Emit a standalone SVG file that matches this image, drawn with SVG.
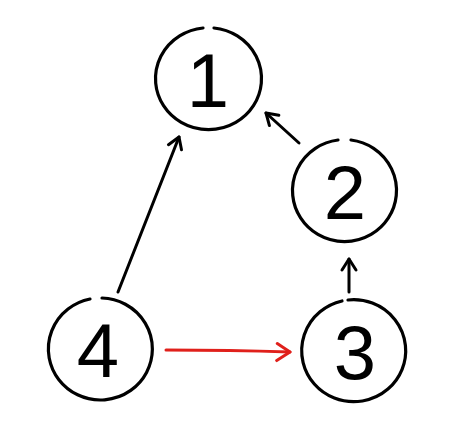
<svg xmlns="http://www.w3.org/2000/svg" width="450" height="448" viewBox="0 0 450 448">
  <style>
    .ring { fill: none; stroke: #000; stroke-width: 3.2; stroke-linecap: round; }
    .lbl { font-family: "Liberation Sans", Arial, sans-serif; font-size: 76px; fill: #000; text-anchor: middle; }
    .edge { fill: none; stroke: #000; stroke-width: 3; stroke-linecap: round; }
    .red { stroke: #e0201b; }
  </style>
  <defs>
    <marker id="ah" markerUnits="userSpaceOnUse" markerWidth="30" markerHeight="30" viewBox="-15 -15 30 30" refX="0" refY="0" orient="auto">
      <path d="M -11 -7 L 0 0 L -11 7" fill="none" stroke="#000" stroke-width="3" stroke-linecap="round" stroke-linejoin="round"/>
    </marker>
    <marker id="ahr" markerUnits="userSpaceOnUse" markerWidth="30" markerHeight="30" viewBox="-15 -15 30 30" refX="0" refY="0" orient="auto">
      <path d="M -13 -8 L 0 0 L -13 9" fill="none" stroke="#e0201b" stroke-width="3" stroke-linecap="round" stroke-linejoin="round"/>
    </marker>
  </defs>
  <g id="connectors">
    <path class="edge" d="M 118 292 L 179 137" marker-end="url(#ah)"/>
    <path class="edge" d="M 299 143 L 266 113" marker-end="url(#ah)"/>
    <path class="edge" d="M 349 292 L 349 259" marker-end="url(#ah)"/>
    <path class="edge red" d="M 166 350 Q 230 350 290 352" marker-end="url(#ahr)"/>
  </g>
  <g id="node1">
    <path class="ring" d="M 214 28 A 53 51 0 1 1 203 28"/>
    <text class="lbl" x="208" y="107">1</text>
  </g>
  <g id="node2">
    <path class="ring" d="M 351 140 A 52 51 0 1 1 338 140"/>
    <text class="lbl" x="345" y="219">2</text>
  </g>
  <g id="node3">
    <path class="ring" d="M 348 300 A 52 51 0 1 1 342 301"/>
    <text class="lbl" x="355" y="379">3</text>
  </g>
  <g id="node4">
    <path class="ring" d="M 102 298 A 52 51 0 1 1 90 299"/>
    <text class="lbl" x="98" y="377">4</text>
  </g>
</svg>
